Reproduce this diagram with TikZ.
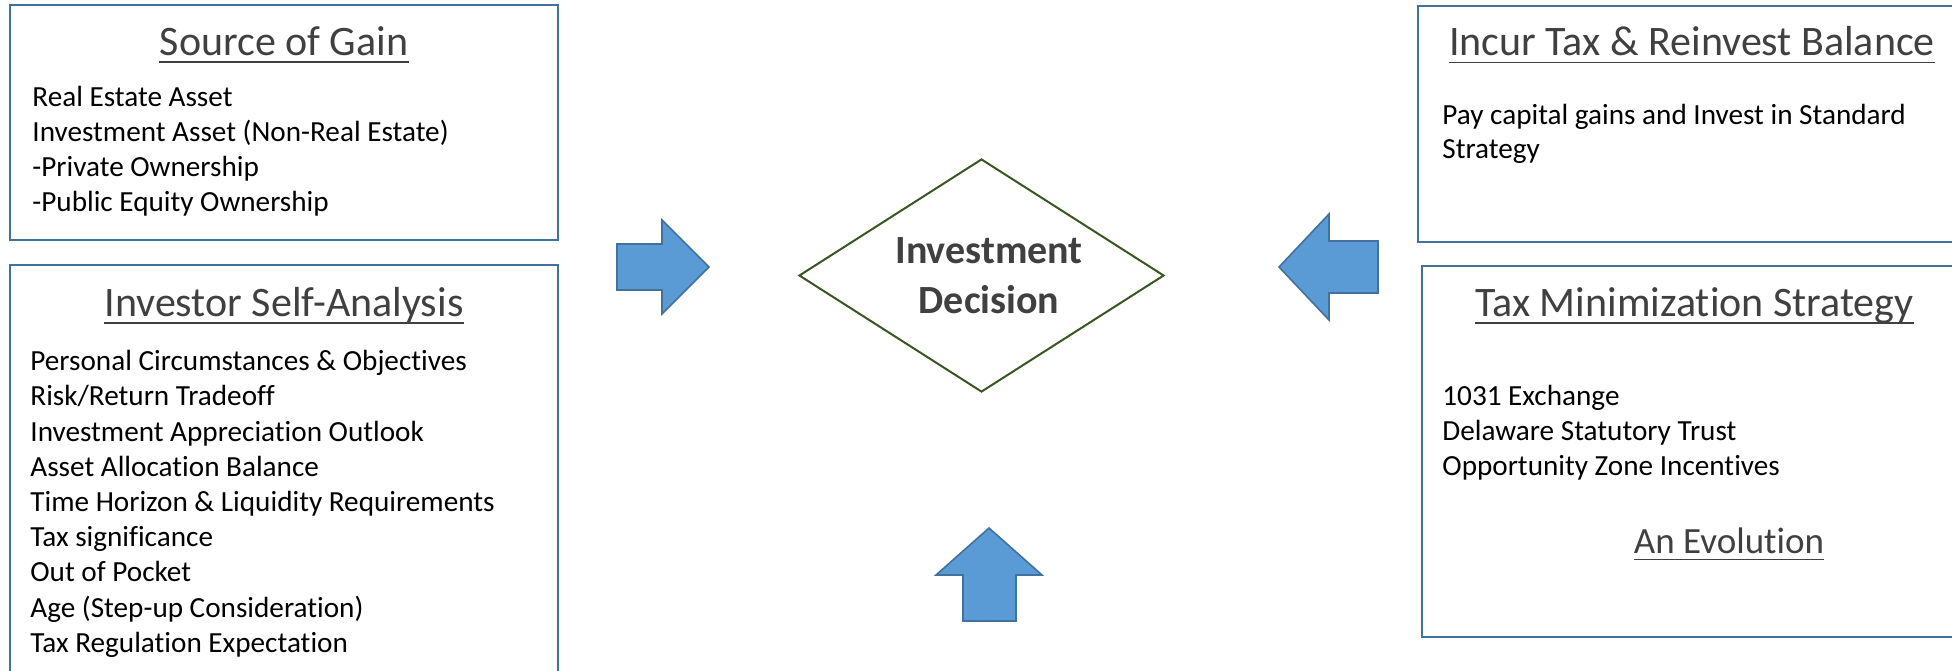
\documentclass[tikz,border=0pt]{standalone}
\usepackage{fontspec}
\setmainfont{Carlito}[RawFeature={-liga}]
\usetikzlibrary{shapes.geometric}
\definecolor{boxblue}{HTML}{41719C}
\definecolor{arrowfill}{HTML}{5B9BD5}
\definecolor{arrowline}{HTML}{41719C}
\definecolor{diagreen}{HTML}{385723}
\definecolor{titlegray}{HTML}{404040}
\begin{document}
\begin{tikzpicture}[x=0.5pt,y=-0.5pt,
  panel/.style={draw=boxblue,line width=1.3pt},
  boxtitle/.style={inner sep=0pt,anchor=base,text=titlegray,font=\fontsize{21}{25.6}\selectfont},
  smalltitle/.style={inner sep=0pt,anchor=base,text=titlegray,font=\fontsize{18.5}{22.6}\selectfont},
  body/.style={inner sep=0pt,anchor=base west,font=\fontsize{14.6}{17.65}\selectfont},
  ulinestyle/.style={draw=titlegray,line width=0.9pt},
  blockarrow/.style={fill=arrowfill,draw=arrowline,line width=0.8pt,line join=miter},
  dia/.style={diamond,draw=diagreen,line width=1pt,minimum width=182.5pt,minimum height=116.5pt,inner sep=0pt,aspect=1.567},
  dectext/.style={inner sep=0pt,align=center,text=titlegray,font=\bfseries\fontsize{20}{24.75}\selectfont}]
\useasboundingbox (0,0) rectangle (1952,670);
\clip (0,0) rectangle (1952,670);
\fill[white] (0,0) rectangle (1952,670);

% panels
\draw[panel] (10,5) rectangle (558,240);
\draw[panel] (10,265) rectangle (558,690);
\draw[panel] (1418,6) rectangle (1966,242);
\draw[panel] (1422,266) rectangle (1966,637);

% Source of Gain
\node[boxtitle] (srct) at (284,55) {Source of Gain};
\draw[ulinestyle] ([yshift=-3.5pt]srct.base west) -- ([yshift=-3.5pt]srct.base east);
\foreach \t [count=\i] in {Real Estate Asset, Investment Asset (Non-Real Estate), -Private Ownership, -Public Equity Ownership}
  \node[body] (src\i) at (32,{106+35*(\i-1)}) {\t};

% Investor Self-Analysis
\node[boxtitle] (invt) at (284,316) {Investor Self-Analysis};
\draw[ulinestyle] ([yshift=-3.5pt]invt.base west) -- ([yshift=-3.5pt]invt.base east);
\foreach \t [count=\i] in {Personal Circumstances \& Objectives, Risk/Return Tradeoff, Investment Appreciation Outlook, Asset Allocation Balance, Time Horizon \& Liquidity Requirements, Tax significance, Out of Pocket, Age (Step-up Consideration), Tax Regulation Expectation}
  \node[body] (inv\i) at (30,{370.7+35.2*(\i-1)}) {\t};

% Incur Tax & Reinvest Balance
\node[boxtitle] (inct) at (1692,55.5) {Incur Tax \& Reinvest Balance};
\draw[ulinestyle] ([yshift=-3.5pt]inct.base west) -- ([yshift=-3.5pt]inct.base east);
\node[body] (inc1) at (1442,124) {Pay capital gains and Invest in Standard};
\node[body] (inc2) at (1442,158) {Strategy};

% Tax Minimization Strategy
\node[boxtitle] (taxt) at (1694.5,316) {Tax Minimization Strategy};
\draw[ulinestyle] ([yshift=-3.5pt]taxt.base west) -- ([yshift=-3.5pt]taxt.base east);
\foreach \t [count=\i] in {1031 Exchange, Delaware Statutory Trust, Opportunity Zone Incentives}
  \node[body] (tax\i) at (1442,{405+35*(\i-1)}) {\t};
\node[smalltitle] (evo) at (1729,553) {An Evolution};
\draw[ulinestyle] ([yshift=-3.2pt]evo.base west) -- ([yshift=-3.2pt]evo.base east);

% Decision diamond
\node[dia] (dec) at (981.5,275.5) {};
\node[dectext] (dect) at (989,275.5) {Investment\\Decision};

% block arrows
\draw[blockarrow] (617,244) -- (662,244) -- (662,220) -- (709,267) -- (662,314) -- (662,290) -- (617,290) -- cycle;
\draw[blockarrow] (1378,241) -- (1329,241) -- (1329,214) -- (1279,267) -- (1329,320) -- (1329,293) -- (1378,293) -- cycle;
\draw[blockarrow] (963,621) -- (963,575) -- (936,575) -- (989,528) -- (1042,575) -- (1016,575) -- (1016,621) -- cycle;
\end{tikzpicture}
\end{document}
